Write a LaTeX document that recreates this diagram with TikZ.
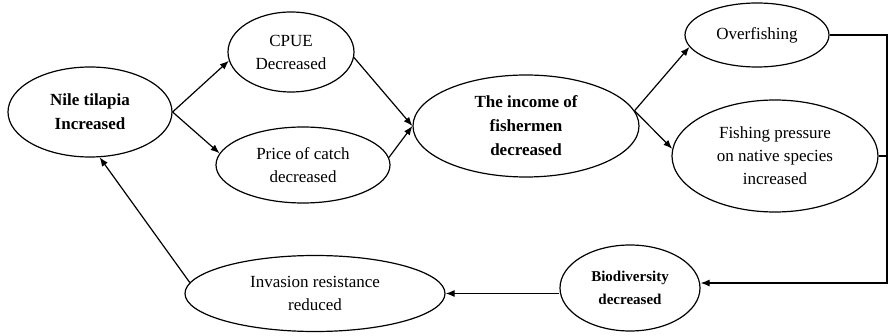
\documentclass[tikz,border=0pt]{standalone}
\usepackage{fontspec}
\setmainfont{Liberation Serif}
\usetikzlibrary{shapes.geometric,arrows.meta}

\begin{document}
\begin{tikzpicture}[x=1pt,y=1pt,line width=1.2pt,
  main node/.style={ellipse,draw,inner sep=0pt,align=center,font=\fontsize{17}{23}\selectfont},
  bold node/.style={main node,font=\fontsize{17}{24}\selectfont\bfseries},
  >={Latex[length=9pt,width=7pt]}]
  	\useasboundingbox (0,0) rectangle (889,335);
  	\node[bold node,minimum width=164,minimum height=90] at (90,223) (nile) {Nile tilapia\\Increased};
  	\node[main node,minimum width=126,minimum height=80] at (291,283) (cpue) {CPUE\\Decreased};
  	\node[main node,minimum width=174,minimum height=76] at (303,170) (price) {Price of catch\\decreased};
  	\node[bold node,minimum width=226,minimum height=102] at (526,209) (income) {The income of\\fishermen\\decreased};
  	\node[main node,minimum width=144,minimum height=64] at (757,300) (over) {Overfishing};
  	\node[main node,minimum width=206,minimum height=112] at (775,179) (press) {Fishing pressure\\on native species\\increased};
  	\node[bold node,minimum width=140,minimum height=86,font=\fontsize{15}{23}\selectfont\bfseries] at (630,47) (bio) {Biodiversity\\decreased};
  	\node[main node,minimum width=260,minimum height=76] at (315,41.5) (inv) {Invasion resistance\\reduced};
  	
  	\coordinate (bend) at (887,52);
  	
  	\path[->]
  	(nile.east) edge (cpue.188)
  	(nile.east) edge (price.172)
  	(cpue.-5) edge (income.west)
  	(price.5) edge (income.west)
  	(income.8) edge (over.190)
  	(income.8) edge (press.176)
  	(bio.west |- inv.east) edge (inv.east)
  	(inv.175) edge (nile.-78);
  	
  	\draw[->] (over.east) -| (bend) -- (bend -| bio.east);
  	\draw (press.east) -- (press.east -| bend);
\end{tikzpicture}
\end{document}
